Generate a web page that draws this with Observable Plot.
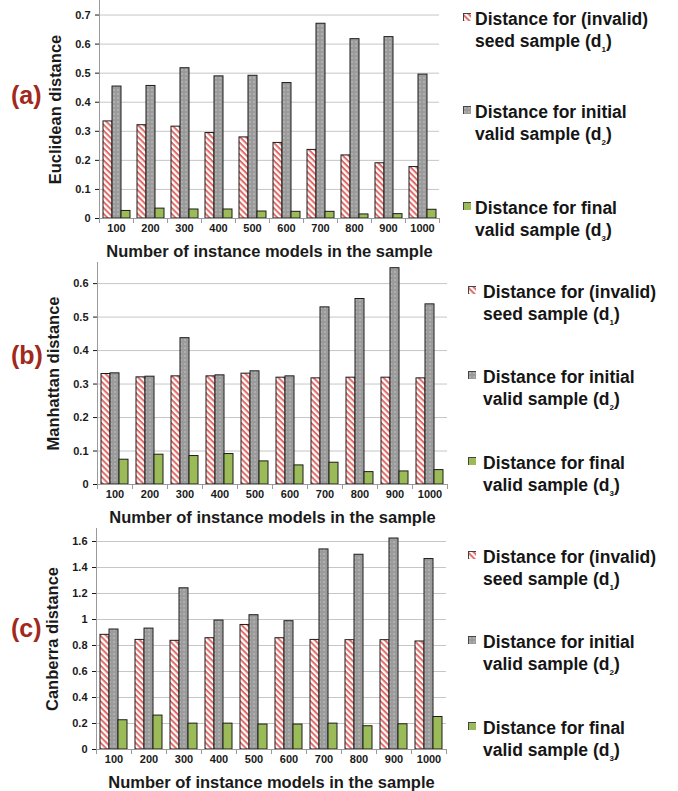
<!DOCTYPE html>
<html>
<head>
<meta charset="utf-8">
<script src="https://cdn.jsdelivr.net/npm/d3@7"></script>
<script src="https://cdn.jsdelivr.net/npm/@observablehq/plot@0.6"></script>
<style>
html, body { margin: 0; padding: 0; background: #fff; }
#root { position: relative; width: 678px; height: 791px; overflow: hidden;
  font-family: "Liberation Sans", Arial, sans-serif; font-weight: bold; color: #151515; }
.panel { position: absolute; left: 0; }
.panel svg { overflow: visible; display: block; }
.tag { position: absolute; left: 11px; font-size: 25px; line-height: 26px; color: #a1281b; }
.leg { position: absolute; font-size: 17.5px; line-height: 21.5px; white-space: nowrap; color: #151515; }
.leg .sub { font-size: 8px; position: relative; top: 5px; }
.sw { position: absolute; width: 8px; height: 8px; }
g[aria-label="y-axis label"], g[aria-label="fx-axis label"] { font-size: 16.5px; }
g[aria-label="y-axis tick"] { stroke: #9a9a9a; }
</style>
</head>
<body>
<svg width="0" height="0" style="position:absolute">
  <defs>
    <pattern id="stripes" patternUnits="userSpaceOnUse" width="4.2" height="4.2" patternTransform="rotate(45)">
      <rect width="4.2" height="4.2" fill="#ffffff"/>
      <rect width="4.2" height="2" fill="#e26a66"/>
    </pattern>
    <pattern id="dots" patternUnits="userSpaceOnUse" width="4" height="4">
      <rect width="4" height="4" fill="#9b9b9b"/>
      <rect x="1.5" y="1.5" width="1" height="1" fill="#e6e6e6"/>
    </pattern>
  </defs>
</svg>
<div id="root"></div>
<script>
// ---------- data ----------
const categories = ["100", "200", "300", "400", "500", "600", "700", "800", "900", "1000"];
const seriesKeys = ["d1", "d2", "d3"];

const euclideanD1 = [0.334, 0.321, 0.316, 0.294, 0.279, 0.260, 0.236, 0.217, 0.190, 0.177];
const euclideanD2 = [0.454, 0.456, 0.517, 0.489, 0.491, 0.466, 0.670, 0.617, 0.624, 0.495];
const euclideanD3 = [0.026, 0.034, 0.031, 0.031, 0.024, 0.023, 0.023, 0.014, 0.015, 0.030];

const manhattanD1 = [0.330, 0.320, 0.323, 0.323, 0.331, 0.319, 0.317, 0.319, 0.319, 0.317];
const manhattanD2 = [0.332, 0.322, 0.437, 0.326, 0.338, 0.323, 0.529, 0.554, 0.646, 0.538];
const manhattanD3 = [0.074, 0.089, 0.085, 0.091, 0.069, 0.057, 0.065, 0.037, 0.039, 0.043];

const canberraD1 = [0.882, 0.843, 0.836, 0.856, 0.958, 0.856, 0.843, 0.841, 0.841, 0.831];
const canberraD2 = [0.923, 0.930, 1.240, 0.992, 1.033, 0.987, 1.539, 1.498, 1.623, 1.465];
const canberraD3 = [0.225, 0.261, 0.199, 0.199, 0.192, 0.192, 0.199, 0.179, 0.194, 0.250];

const yTicksA = [0, 0.1, 0.2, 0.3, 0.4, 0.5, 0.6, 0.7];
const yTicksB = [0, 0.1, 0.2, 0.3, 0.4, 0.5, 0.6];
const yTicksC = [0, 0.2, 0.4, 0.6, 0.8, 1, 1.2, 1.4, 1.6];

const yTitles = ["Euclidean distance", "Manhattan distance", "Canberra distance"];
const panelTags = ["(a)", "(b)", "(c)"];
const xTitle = "Number of instance models in the sample";
const legendLine1 = ["Distance for (invalid)", "Distance for initial", "Distance for final"];
const legendLine2 = ["seed sample (d", "valid sample (d", "valid sample (d"];
const legendSub = ["1", "2", "3"];
const seriesFills = ["url(#stripes)", "url(#dots)", "#9bbb59"];

// ---------- drawing ----------
const root = document.getElementById("root");

function rowsFor(key, vals) {
  return categories.map((c, i) => ({cat: c, series: key, value: vals[i]}));
}

function makePanel(vals, cfg) {
  const plotH = cfg.h - cfg.mb;
  const barMarks = seriesKeys.map((k, j) =>
    Plot.barY(rowsFor(k, vals[j]), {
      fx: "cat", x: "series", y: "value",
      fill: seriesFills[j], stroke: "#1c1c1c", strokeWidth: 1
    })
  );
  return Plot.plot({
    width: 460, height: cfg.h,
    marginTop: 0, marginBottom: cfg.mb, marginLeft: cfg.ml, marginRight: cfg.mr,
    style: {fontFamily: '"Liberation Sans", Arial, sans-serif', fontWeight: "bold", fontSize: "11px",
            color: "#1a1a1a", background: "transparent", overflow: "visible"},
    fx: {domain: categories, paddingInner: 0, paddingOuter: 0},
    x: {domain: seriesKeys, paddingInner: 0, paddingOuter: 0.33, axis: null},
    y: {domain: [0, cfg.yMax]},
    marks: [
      Plot.gridY(cfg.ticks, {stroke: "#c6c6c6", strokeOpacity: 1}),
      Plot.frame({anchor: "left", stroke: "#9a9a9a", insetTop: plotH, insetBottom: -4}),
      Plot.frame({anchor: "right", stroke: "#9a9a9a", insetTop: plotH, insetBottom: -4}),
      ...barMarks,
      Plot.ruleY([0], {stroke: "#9a9a9a"}),
      Plot.frame({anchor: "left", stroke: "#9a9a9a", facet: "super"}),
      Plot.axisY(cfg.ticks, {
        tickSize: 4, tickPadding: 5, tickFormat: d => String(d),
        label: cfg.yLabel, labelAnchor: "center", labelArrow: "none", labelOffset: 50
      }),
      Plot.axisFx({
        anchor: "bottom", tickSize: 0, tickPadding: 6,
        label: xTitle, labelAnchor: "center", labelArrow: "none", labelOffset: 38
      })
    ]
  });
}

const panels = [
  {vals: [euclideanD1, euclideanD2, euclideanD3], top: 0, h: 262, mb: 44, ml: 95, mr: 18, yMax: 0.75, ticks: yTicksA,
   tagY: 95, swX: 463, txX: 475, legY: [20, 113, 209]},
  {vals: [manhattanD1, manhattanD2, manhattanD3], top: 262, h: 266, mb: 44, ml: 96, mr: 13, yMax: 0.663, ticks: yTicksB,
   tagY: 355, swX: 468, txX: 483, legY: [293, 378, 464]},
  {vals: [canberraD1, canberraD2, canberraD3], top: 528, h: 263, mb: 42, ml: 96, mr: 14, yMax: 1.70, ticks: yTicksC,
   tagY: 628, swX: 468, txX: 483, legY: [558, 643, 729]}
];

panels.forEach((p, i) => {
  p.yLabel = yTitles[i];
  const div = document.createElement("div");
  div.className = "panel";
  div.style.top = p.top + "px";
  div.appendChild(makePanel(p.vals, p));
  root.appendChild(div);

  const tag = document.createElement("div");
  tag.className = "tag";
  tag.textContent = panelTags[i];
  tag.style.top = (p.tagY - 13) + "px";
  root.appendChild(tag);

  seriesKeys.forEach((k, j) => {
    const cy = p.legY[j];
    const sw = document.createElementNS("http://www.w3.org/2000/svg", "svg");
    sw.setAttribute("class", "sw");
    sw.setAttribute("width", 9);
    sw.setAttribute("height", 9);
    sw.style.left = p.swX + "px";
    sw.style.top = (cy - 7) + "px";
    sw.innerHTML = `<rect x="0.5" y="0.5" width="8" height="8" fill="${seriesFills[j]}" stroke="#444" stroke-width="1"/>`;
    root.appendChild(sw);

    const t = document.createElement("div");
    t.className = "leg";
    t.style.left = p.txX + "px";
    t.style.top = (cy - 10.75) + "px";
    t.innerHTML = `${legendLine1[j]}<br>${legendLine2[j]}<span class="sub">${legendSub[j]}</span>)`;
    root.appendChild(t);
  });
});
</script>
</body>
</html>
